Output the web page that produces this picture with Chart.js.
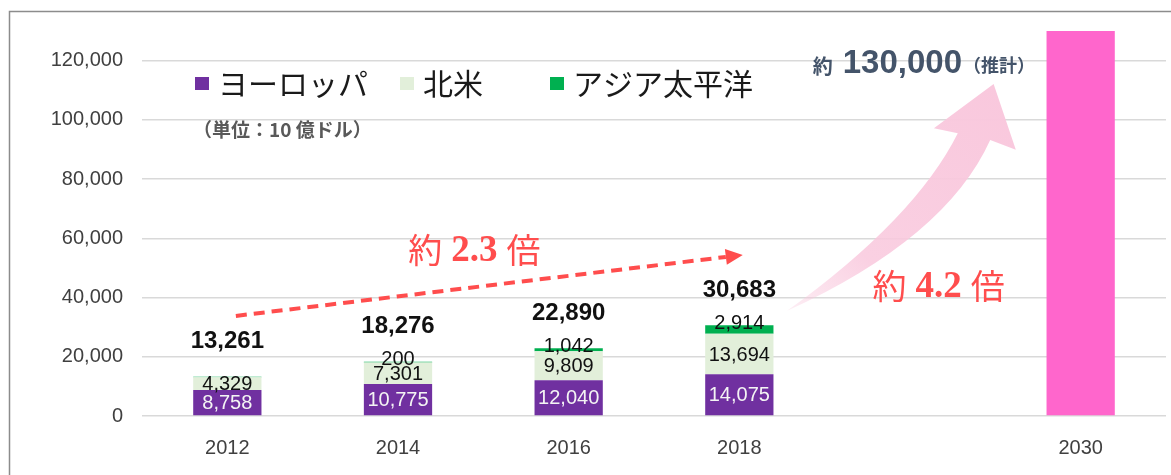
<!DOCTYPE html>
<html>
<head>
<meta charset="utf-8">
<script src="https://cdn.jsdelivr.net/npm/chart.js@4/dist/chart.umd.min.js"></script>
<style>
  html, body { margin: 0; background: #fff; }
  canvas { display: block; }
</style>
</head>
<body>
<canvas id="chart" width="1171" height="475"></canvas>
<script>
// market size by region (unit: 10 億ドル)
const YEARS = ['2012', '2014', '2016', '2018', '', '2030'];
const EUROPE = [8758, 10775, 12040, 14075, null, null];
const N_AMERICA = [4329, 7301, 9809, 13694, null, null];
const ASIA_PAC = [174, 200, 1042, 2914, null, null];
const TOTALS = [13261, 18276, 22890, 30683, null, null];
const FORECAST = [null, null, null, null, null, 130000];
const Y_TICKS = [0, 20000, 40000, 60000, 80000, 100000, 120000];

const SANS = "'Liberation Sans', Arial, 'Noto Sans CJK JP', sans-serif";
const JP = "'Noto Sans CJK JP', sans-serif";
const SERIF = "'Liberation Serif', 'Noto Sans CJK JP', serif";
const PURPLE = '#7030a0', LIGHT = '#e2efda', GREEN = '#00b050', PINK = '#ff66cc';
const RED = '#ff4d4d', SLATE = '#44546a', TICK = '#404040', GRID = '#d9d9d9';

const fmt = (v) => v.toLocaleString('en-US');

// grey frame line at top/left, like the pasted Excel frame
const frame = {
  id: 'frame',
  beforeDraw(chart) {
    const { ctx, width, height } = chart;
    ctx.save();
    ctx.fillStyle = '#fff';
    ctx.fillRect(0, 0, width, height);
    ctx.strokeStyle = '#8c8c8c';
    ctx.lineWidth = 1.5;
    ctx.beginPath();
    ctx.moveTo(9.5, height); ctx.lineTo(9.5, 11.5); ctx.lineTo(width, 11.5);
    ctx.stroke();
    ctx.restore();
  }
};

// legend + unit note, drawn inside the plot like the original
const legendBox = {
  id: 'legendBox',
  afterDraw(chart) {
    const { ctx } = chart;
    const items = [{ ds: 0, x: 195 }, { ds: 1, x: 400 }, { ds: 2, x: 550 }];
    ctx.save();
    ctx.textBaseline = 'middle';
    items.forEach(({ ds, x }) => {
      const d = chart.data.datasets[ds];
      ctx.fillStyle = d.backgroundColor;
      ctx.fillRect(x, 77, 14, 13);
      ctx.fillStyle = '#1a1a1a';
      ctx.font = `30px ${JP}`;
      ctx.fillText(d.label, x + 23, 84);
    });
    ctx.fillStyle = '#595959';
    ctx.font = `bold 19px ${JP}`;
    ctx.fillText('（単位：10 億ドル）', 193, 130);
    ctx.restore();
  }
};

// value labels inside / above the stacked bars
const valueLabels = {
  id: 'valueLabels',
  afterDatasetsDraw(chart) {
    const { ctx } = chart;
    ctx.save();
    ctx.textAlign = 'center';
    ctx.textBaseline = 'middle';
    ctx.font = `20px ${SANS}`;
    [0, 1, 2].forEach((di) => {
      const meta = chart.getDatasetMeta(di);
      const data = chart.data.datasets[di].data;
      meta.data.forEach((bar, i) => {
        const v = data[i];
        if (v == null) return;
        if (di === 0) {
          ctx.fillStyle = '#f4f4f4';
          ctx.fillText(fmt(v), bar.x, (bar.y + bar.base) / 2 + 1);
        } else if (di === 1) {
          ctx.fillStyle = '#111';
          ctx.fillText(fmt(v), bar.x, (bar.y + bar.base) / 2 + 1);
        } else if (v >= 190) {
          ctx.fillStyle = '#111';
          ctx.fillText(fmt(v), bar.x, bar.y - 2);
        }
      });
    });
    const top = chart.getDatasetMeta(2);
    ctx.font = `bold 24px ${SANS}`;
    ctx.fillStyle = '#111';
    top.data.forEach((bar, i) => {
      if (TOTALS[i] == null) return;
      ctx.fillText(fmt(TOTALS[i]), bar.x, bar.y - 35);
    });
    ctx.restore();
  }
};

// draw a run of text pieces with their own fonts, left to right
function drawParts(ctx, parts, x, y) {
  parts.forEach(([text, font, gap, dy]) => {
    ctx.font = font;
    ctx.fillText(text, x, y + (dy || 0));
    x += ctx.measureText(text).width + (gap || 0);
  });
}

// arrows and call-out texts, placed in data space (category index, value)
const annotations = {
  id: 'annotations',
  afterDraw(chart) {
    const { ctx, scales: { x, y } } = chart;
    const P = (i, v) => ({ x: x.getPixelForValue(i), y: y.getPixelForValue(v) });
    ctx.save();

    // red dashed arrow 2012 -> 2018
    const s = P(0.05, 33800), t = P(3.02, 54400);
    const ang = Math.atan2(t.y - s.y, t.x - s.x);
    const hl = 17, hw = 8;
    const b = { x: t.x - hl * Math.cos(ang), y: t.y - hl * Math.sin(ang) };
    ctx.strokeStyle = RED; ctx.fillStyle = RED;
    ctx.lineWidth = 4; ctx.setLineDash([11, 7]);
    ctx.beginPath(); ctx.moveTo(s.x, s.y); ctx.lineTo(b.x, b.y); ctx.stroke();
    ctx.setLineDash([]);
    ctx.beginPath();
    ctx.moveTo(t.x, t.y);
    ctx.lineTo(b.x + hw * Math.sin(ang), b.y - hw * Math.cos(ang));
    ctx.lineTo(b.x - hw * Math.sin(ang), b.y + hw * Math.cos(ang));
    ctx.closePath(); ctx.fill();

    // pink curved arrow 2018 -> 2030
    const T = P(3.28, 35500), CL = P(4.03, 66700), L = P(4.28, 95500),
          WL = P(4.14, 97200), TIP = P(4.49, 112100), WR = P(4.62, 89900),
          R = P(4.47, 93200), CR = P(4.21, 60000);
    const g = ctx.createLinearGradient(T.x, T.y, TIP.x, TIP.y);
    g.addColorStop(0, 'rgba(249,200,221,0.3)');
    g.addColorStop(0.3, 'rgba(249,200,221,0.85)');
    g.addColorStop(1, '#f9c8dd');
    ctx.fillStyle = g;
    ctx.beginPath();
    ctx.moveTo(T.x, T.y);
    ctx.quadraticCurveTo(CL.x, CL.y, L.x, L.y);
    ctx.lineTo(WL.x, WL.y); ctx.lineTo(TIP.x, TIP.y); ctx.lineTo(WR.x, WR.y);
    ctx.lineTo(R.x, R.y);
    ctx.quadraticCurveTo(CR.x, CR.y, T.x, T.y);
    ctx.closePath(); ctx.fill();

    // ratio texts
    ctx.fillStyle = RED;
    ctx.textBaseline = 'middle';
    const r1 = P(1.06, 56000), r2 = P(3.78, 43800);
    [['2.3', r1], ['4.2', r2]].forEach(([n, p]) => {
      drawParts(ctx, [
        ['約', `34px ${JP}`, 9],
        [n, `bold 37px ${SERIF}`, 9, 1],
        ['倍', `34px ${JP}`]
      ], p.x, p.y);
    });

    // forecast value
    const a = P(3.43, 115700);
    ctx.textBaseline = 'alphabetic';
    ctx.fillStyle = SLATE;
    drawParts(ctx, [
      ['約', `bold 20px ${JP}`, 10, 1],
      ['130,000', `bold 33px ${SANS}`, 1],
      ['（推計）', `bold 18px ${JP}`, 0, -1]
    ], a.x, a.y);
    ctx.restore();
  }
};

new Chart(document.getElementById('chart'), {
  type: 'bar',
  data: {
    labels: YEARS,
    datasets: [
      { label: 'ヨーロッパ', data: EUROPE, backgroundColor: PURPLE, stack: 's' },
      { label: '北米', data: N_AMERICA, backgroundColor: LIGHT, stack: 's' },
      { label: 'アジア太平洋', data: ASIA_PAC, backgroundColor: GREEN, stack: 's' },
      { label: '2030', data: FORECAST, backgroundColor: PINK, stack: 's' }
    ]
  },
  options: {
    responsive: false,
    animation: false,
    devicePixelRatio: 1,
    layout: { padding: { top: 24, right: 5, left: 0, bottom: 0 } },
    datasets: { bar: { categoryPercentage: 1, barPercentage: 0.4 } },
    plugins: { legend: { display: false }, tooltip: { enabled: false } },
    scales: {
      x: {
        stacked: true,
        grid: { display: false },
        border: { display: false },
        ticks: { font: { family: SANS, size: 20 }, color: TICK, padding: 12 },
        afterFit: (s) => { s.height = 59; }
      },
      y: {
        stacked: true,
        min: 0, max: 130000,
        grid: { color: GRID, lineWidth: 1.5, drawTicks: false },
        border: { display: false },
        ticks: {
          padding: 19, font: { family: SANS, size: 20 }, color: TICK,
          callback: (v) => fmt(v)
        },
        afterBuildTicks: (s) => { s.ticks = Y_TICKS.map((value) => ({ value })); },
        afterFit: (s) => { s.width = 142; }
      }
    }
  },
  plugins: [frame, valueLabels, annotations, legendBox]
});
</script>
</body>
</html>
